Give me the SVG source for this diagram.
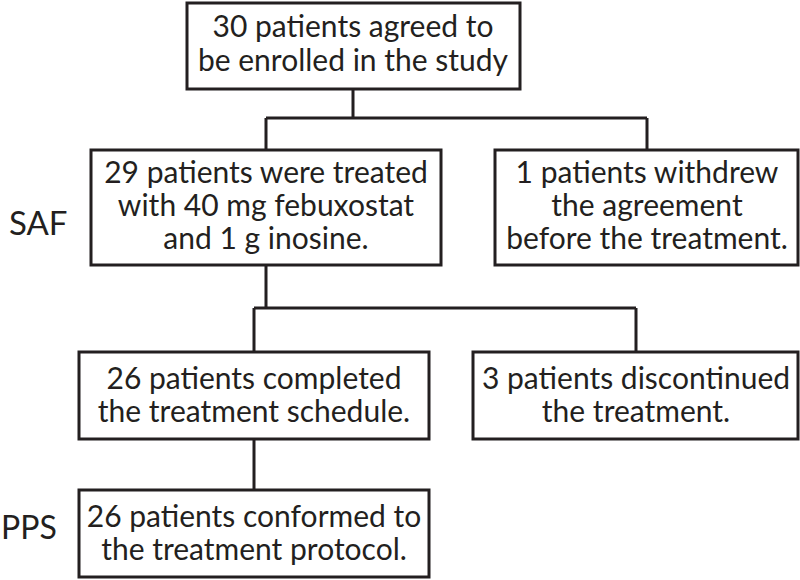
<svg xmlns="http://www.w3.org/2000/svg" width="800" height="580" viewBox="0 0 800 580">
<style>
.box{fill:#fff;stroke:#231f20;stroke-width:3}
.t{font-family:Lato,"Open Sans","Liberation Sans",sans-serif;font-size:30px;fill:#231f20;text-anchor:middle}
.lbl{font-family:Lato,"Open Sans","Liberation Sans",sans-serif;font-size:32px;fill:#231f20}
.c{fill:none;stroke:#231f20;stroke-width:3}
</style>
<rect width="800" height="580" fill="#fff"/>
<g id="connectors">
<path class="c" d="M353 89V118M266 118H647M266 118V150M647 118V150"/>
<path class="c" d="M266 265V308M254 308H636M254 308V352M636 308V352"/>
<path class="c" d="M254 439V490"/>
</g>
<g id="n1"><rect class="box" x="187" y="3" width="333" height="86"/>
<text class="t" x="353" y="37">30 patients agreed to</text><text class="t" x="353" y="71">be enrolled in the study</text></g>
<g id="n2"><rect class="box" x="91" y="150" width="350" height="115"/>
<text class="t" x="266" y="183">29 patients were treated</text><text class="t" x="266" y="216">with 40 mg febuxostat</text><text class="t" x="266" y="249">and 1 g inosine.</text></g>
<g id="n3"><rect class="box" x="495" y="150" width="303" height="115"/>
<text class="t" x="647" y="183">1 patients withdrew</text><text class="t" x="647" y="216">the agreement</text><text class="t" x="647" y="249">before the treatment.</text></g>
<g id="n4"><rect class="box" x="79" y="352" width="350" height="87"/>
<text class="t" x="254" y="389">26 patients completed</text><text class="t" x="254" y="422">the treatment schedule.</text></g>
<g id="n5"><rect class="box" x="473" y="352" width="325" height="87"/>
<text class="t" x="636" y="389">3 patients discontinued</text><text class="t" x="636" y="422">the treatment.</text></g>
<g id="n6"><rect class="box" x="79" y="490" width="350" height="87"/>
<text class="t" x="254" y="527">26 patients conformed to</text><text class="t" x="254" y="560">the treatment protocol.</text></g>
<g id="labels">
<text class="lbl" x="9" y="235" style="font-size:33px">SAF</text>
<text class="lbl" x="1" y="539">PPS</text>
</g>
</svg>
